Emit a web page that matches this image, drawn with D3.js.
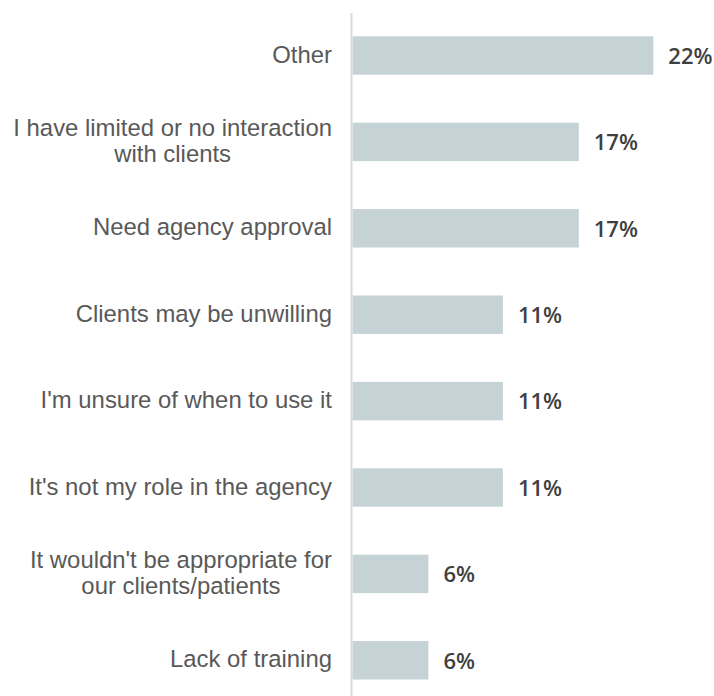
<!DOCTYPE html>
<html>
<head>
<meta charset="utf-8">
<script src="https://cdn.jsdelivr.net/npm/d3@7"></script>
<style>
  html, body { margin: 0; padding: 0; background: #ffffff; }
  svg { display: block; }
  .cat { font-family: "Liberation Sans", Arimo, Arial, Helvetica, sans-serif; }
  .val { font-family: "Open Sans", "Noto Sans", sans-serif; font-weight: 600; }
</style>
</head>
<body>
<div id="chart"></div>
<script>
// Reasons given, top to bottom, with share of respondents (%)
const categories = [
  "Other",
  "I have limited or no interaction with clients",
  "Need agency approval",
  "Clients may be unwilling",
  "I'm unsure of when to use it",
  "It's not my role in the agency",
  "It wouldn't be appropriate for our clients/patients",
  "Lack of training"
];
const values = [22.2, 16.7, 16.7, 11.1, 11.1, 11.1, 5.6, 5.6];

const width = 714, height = 696;
const x0 = 352.5;

const svg = d3.select("#chart").append("svg")
  .attr("width", width)
  .attr("height", height);

const x = d3.scaleLinear()
  .domain([0, d3.max(values)])
  .range([x0, 653.3]);

const y = d3.scaleBand()
  .domain(categories)
  .range([12.3, 703.5])
  .paddingInner(0.555)
  .paddingOuter(0.2775);

const rows = categories.map((c, i) => ({ category: c, value: values[i] }));

// bars
svg.append("g").selectAll("rect")
  .data(rows)
  .join("rect")
  .attr("x", x(0))
  .attr("y", d => y(d.category))
  .attr("width", d => x(d.value) - x(0))
  .attr("height", y.bandwidth())
  .attr("fill", "#c5d3d6");

// vertical baseline
svg.append("line")
  .attr("x1", 351.5).attr("x2", 351.5)
  .attr("y1", 13).attr("y2", height)
  .attr("stroke", "#d9d9d9")
  .attr("stroke-width", 2);

// category labels: wrapped, block right-aligned to the baseline, lines centred
const labelSize = 23.9;
const lineHeight = 26;
const maxLabelWidth = 328;
const labelRight = 332;

const labels = svg.append("g")
  .attr("class", "cat")
  .attr("font-size", labelSize)
  .attr("fill", "#595959");

rows.forEach(d => {
  const t = labels.append("text");
  const probe = t.append("tspan");
  const measure = s => { probe.text(s); return probe.node().getComputedTextLength(); };
  const words = d.category.split(" ");
  const lines = [];
  let current = [];
  words.forEach(w => {
    const trial = current.concat(w).join(" ");
    if (measure(trial) > maxLabelWidth && current.length) {
      lines.push(current.join(" "));
      current = [w];
    } else {
      current.push(w);
    }
  });
  lines.push(current.join(" "));
  const blockWidth = d3.max(lines, measure);
  probe.remove();

  const cy = y(d.category) + y.bandwidth() / 2;
  const first = cy + 7 - (lines.length - 1) * lineHeight / 2;
  const multi = lines.length > 1;
  t.attr("text-anchor", multi ? "middle" : "end");
  lines.forEach((ln, i) => {
    t.append("tspan")
      .attr("x", multi ? labelRight - blockWidth / 2 : labelRight)
      .attr("y", first + i * lineHeight)
      .text(ln);
  });
});

// value labels
svg.append("g")
  .attr("class", "val")
  .attr("font-size", 22)
  .attr("fill", "#404040")
  .selectAll("text")
  .data(rows)
  .join("text")
  .attr("x", d => x(d.value) + 15)
  .attr("y", d => y(d.category) + y.bandwidth() / 2 + 8.3)
  .text(d => Math.round(d.value) + "%");
</script>
</body>
</html>
